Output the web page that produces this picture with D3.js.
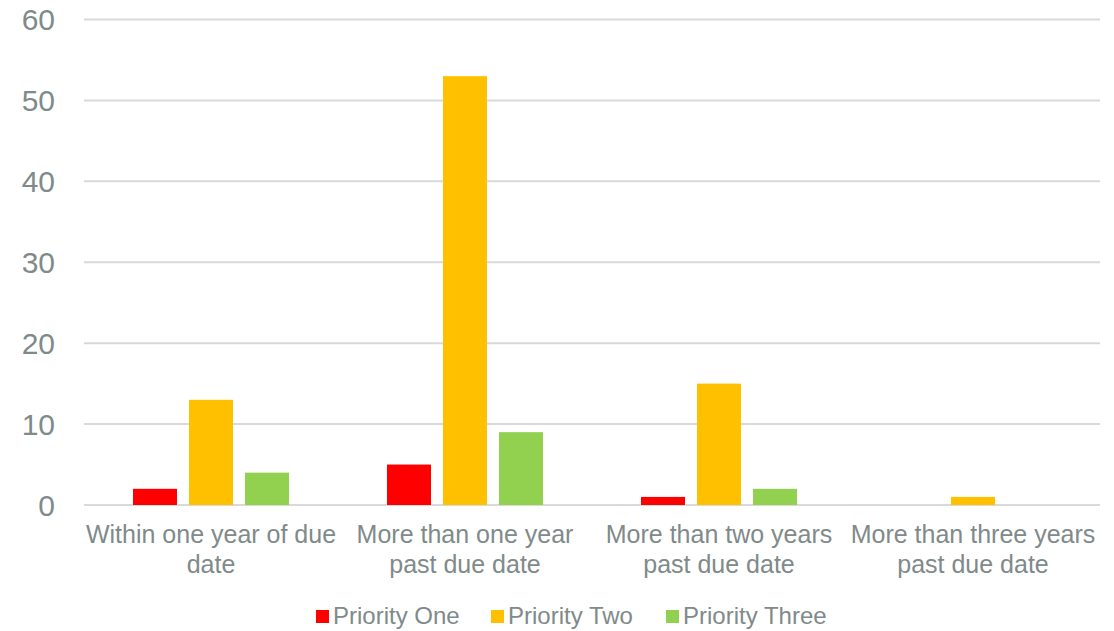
<!DOCTYPE html>
<html>
<head>
<meta charset="utf-8">
<script src="https://cdn.jsdelivr.net/npm/d3@7"></script>
<style>
  body { margin: 0; background: #fff; }
  text { font-family: "Liberation Sans", Arial, sans-serif; fill: #7f8a8a; }
</style>
</head>
<body>
<svg id="chart"></svg>
<script>
const categories = [
    ["Within one year of due", "date"],
    ["More than one year", "past due date"],
    ["More than two years", "past due date"],
    ["More than three years", "past due date"]
];
const seriesNames = ["Priority One", "Priority Two", "Priority Three"];
const seriesColors = ["#ff0000", "#ffc000", "#92d050"];
const priorityOne = [2, 5, 1, 0];
const priorityTwo = [13, 53, 15, 1];
const priorityThree = [4, 9, 2, 0];
const yTicks = [0, 10, 20, 30, 40, 50, 60];

const series = [priorityOne, priorityTwo, priorityThree];

const width = 1114, height = 631;
const margin = { top: 19.5, bottom: 126, left: 84, right: 14 };

const svg = d3.select("#chart")
    .attr("width", width)
    .attr("height", height);

const x0 = d3.scaleBand()
    .domain(d3.range(categories.length))
    .range([margin.left, width - margin.right]);

// three bars of ~44px with ~12px gaps, centred in each band
const groupW = 156;
const inset = (x0.bandwidth() - groupW) / 2;
const x1 = d3.scaleBand()
    .domain(d3.range(series.length))
    .range([inset, inset + groupW])
    .paddingInner(12 / 56);

const y = d3.scaleLinear()
    .domain([0, 60])
    .range([height - margin.bottom, margin.top]);

// gridlines
svg.append("g")
    .selectAll("line")
    .data(yTicks)
    .enter().append("line")
    .attr("x1", margin.left)
    .attr("x2", width - margin.right)
    .attr("y1", d => y(d))
    .attr("y2", d => y(d))
    .attr("stroke", "#d9d9d9")
    .attr("stroke-width", 2);

// y labels
svg.append("g")
    .selectAll("text")
    .data(yTicks)
    .enter().append("text")
    .attr("x", 55)
    .attr("y", d => y(d) + 10.5)
    .attr("text-anchor", "end")
    .style("font-size", "30px")
    .text(d => d);

// bars
const groups = svg.append("g")
    .selectAll("g")
    .data(categories)
    .enter().append("g")
    .attr("transform", (d, i) => `translate(${x0(i)},0)`);

groups.selectAll("rect")
    .data((d, i) => series.map((s, j) => ({ j, v: s[i] })))
    .enter().append("rect")
    .attr("x", d => x1(d.j))
    .attr("width", x1.bandwidth())
    .attr("y", d => y(d.v))
    .attr("height", d => y(0) - y(d.v))
    .attr("fill", d => seriesColors[d.j]);

// category labels
const lab = svg.append("g")
    .selectAll("text")
    .data(categories)
    .enter().append("text")
    .attr("x", (d, i) => x0(i) + x0.bandwidth() / 2)
    .attr("y", 543)
    .attr("text-anchor", "middle")
    .style("font-size", "25px");

lab.selectAll("tspan")
    .data(d => d)
    .enter().append("tspan")
    .attr("x", function () { return d3.select(this.parentNode).attr("x"); })
    .attr("dy", (d, i) => i === 0 ? 0 : 30)
    .text(d => d);

// legend
const legendX = [316, 491, 666];
const legend = svg.append("g")
    .selectAll("g")
    .data(seriesNames)
    .enter().append("g")
    .attr("transform", (d, i) => `translate(${legendX[i]},610)`);

legend.append("rect")
    .attr("width", 13)
    .attr("height", 13)
    .attr("fill", (d, i) => seriesColors[i]);

legend.append("text")
    .attr("x", 17)
    .attr("y", 14)
    .style("font-size", "24px")
    .text(d => d);
</script>
</body>
</html>
